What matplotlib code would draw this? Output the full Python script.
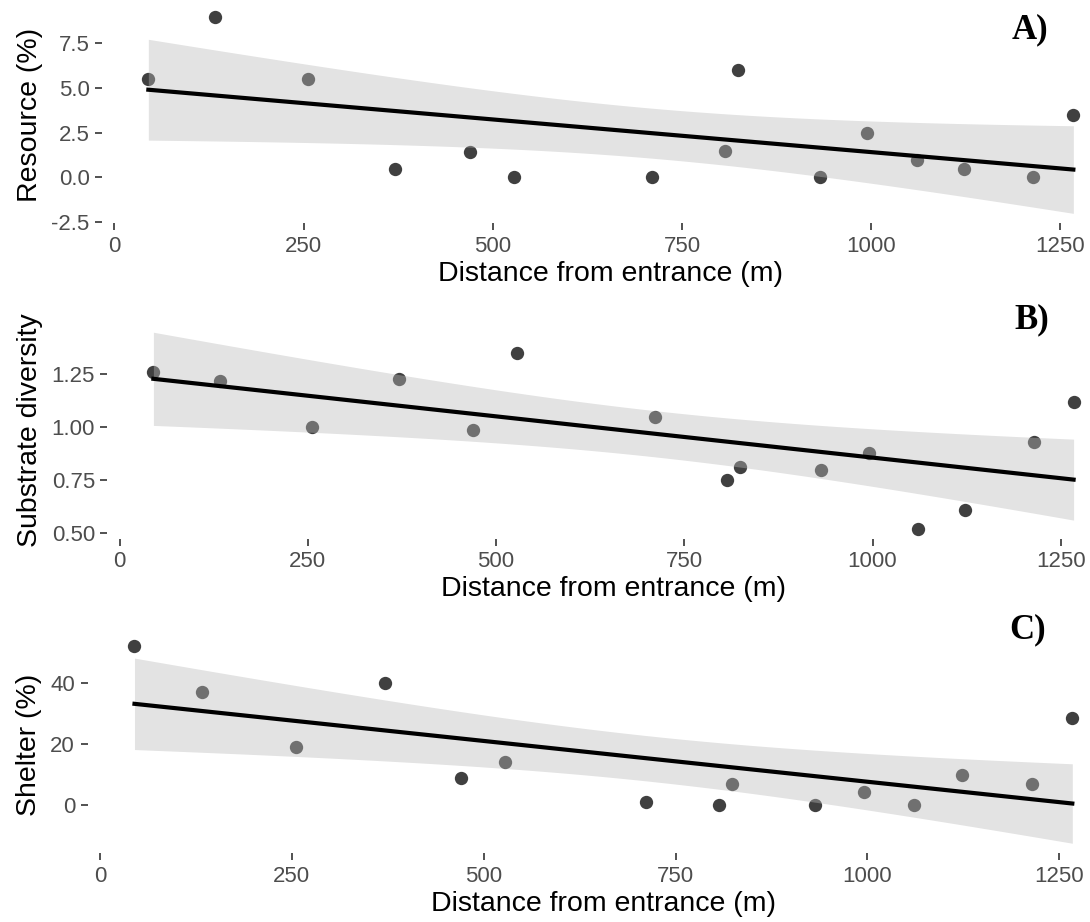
import matplotlib
matplotlib.use("Agg")
import matplotlib.pyplot as plt
import numpy as np

plt.rcParams["font.family"] = ["Liberation Sans", "DejaVu Sans"]

# distance of each site from the cave entrance (m)
distance = [45, 133, 256, 371, 470, 528, 711, 807, 824, 932, 995, 1061, 1123, 1214, 1267]
resource = [5.5, 9.0, 5.5, 0.5, 1.4, 0.0, 0.0, 1.5, 6.0, 0.0, 2.5, 0.95, 0.5, 0.0, 3.5]
substrate = [1.26, 1.22, 1.00, 1.23, 0.985, 1.35, 1.05, 0.75, 0.81, 0.80, 0.88, 0.52, 0.61, 0.93, 1.12]
shelter = [52, 37, 19, 40, 9, 14, 1, 0, 7, 0, 4.5, 0, 10, 7, 28.5]

x_ticks = [0, 250, 500, 750, 1000, 1250]
y_ticks_a = [-2.5, 0.0, 2.5, 5.0, 7.5]
y_ticks_b = [0.50, 0.75, 1.00, 1.25]
y_ticks_c = [0, 20, 40]

W, H = 1090, 922
T_975 = 2.1604  # t quantile, df = 13


def lm_fit(x, y, n=80):
    x = np.asarray(x, float)
    y = np.asarray(y, float)
    b1, b0 = np.polyfit(x, y, 1)
    resid = y - (b0 + b1 * x)
    s = np.sqrt(np.sum(resid ** 2) / (len(x) - 2))
    xs = np.linspace(x.min(), x.max(), n)
    fit = b0 + b1 * xs
    se = s * np.sqrt(1 / len(x) + (xs - x.mean()) ** 2 / np.sum((x - x.mean()) ** 2))
    return xs, fit, fit - T_975 * se, fit + T_975 * se


def panel(box, y, yticks, fmt, ylabel, tag, tag_xy):
    left, top, right, bottom = box
    ax = fig.add_axes([left / W, 1 - bottom / H, (right - left) / W, (bottom - top) / H])
    xs, fit, lo, hi = lm_fit(distance, y)
    # points first so the ribbon greys the ones that fall inside it
    ax.scatter(distance, y, s=92, color="black", alpha=0.75, linewidths=0, zorder=1)
    ax.fill_between(xs, lo, hi, color="#b9b9b9", alpha=0.4, linewidth=0, zorder=2)
    ax.plot(xs, fit, color="black", linewidth=3.0, zorder=3)

    span = max(distance) - min(distance)
    ax.set_xlim(min(distance) - 0.05 * span, max(distance) + 0.05 * span)
    ymin = min(min(y), lo.min())
    ymax = max(max(y), hi.max())
    ax.set_ylim(ymin - 0.05 * (ymax - ymin), ymax + 0.05 * (ymax - ymin))

    ax.set_xticks(x_ticks)
    ax.set_yticks(yticks)
    ax.set_yticklabels([fmt.format(v) for v in yticks])
    for s in ax.spines.values():
        s.set_visible(False)
    ax.tick_params(length=5, width=1.2, color="#333333", labelcolor="#4d4d4d",
                   labelsize=16, pad=4)
    ax.set_xlabel("Distance from entrance (m)", fontsize=20.5, labelpad=3)
    ax.set_ylabel(ylabel, fontsize=20.5, labelpad=6)
    fig.text(tag_xy[0] / W, 1 - tag_xy[1] / H, tag, fontsize=25, fontweight="bold",
             family="Liberation Serif", ha="center", va="baseline")
    return ax


fig = plt.figure(figsize=(W / 100, H / 100), dpi=100)

panel((102.1, 6.8, 1119.6, 223.2), resource, y_ticks_a, "{:.1f}", "Resource (%)", "A)", (1030, 38))
panel((107.4, 322.4, 1119.6, 538.6), substrate, y_ticks_b, "{:.2f}", "Substrate diversity", "B)", (1032, 328))
panel((87.6, 636.2, 1119.2, 853.1), shelter, y_ticks_c, "{:.0f}", "Shelter (%)", "C)", (1028, 638))

fig.savefig("out.png", dpi=100)
